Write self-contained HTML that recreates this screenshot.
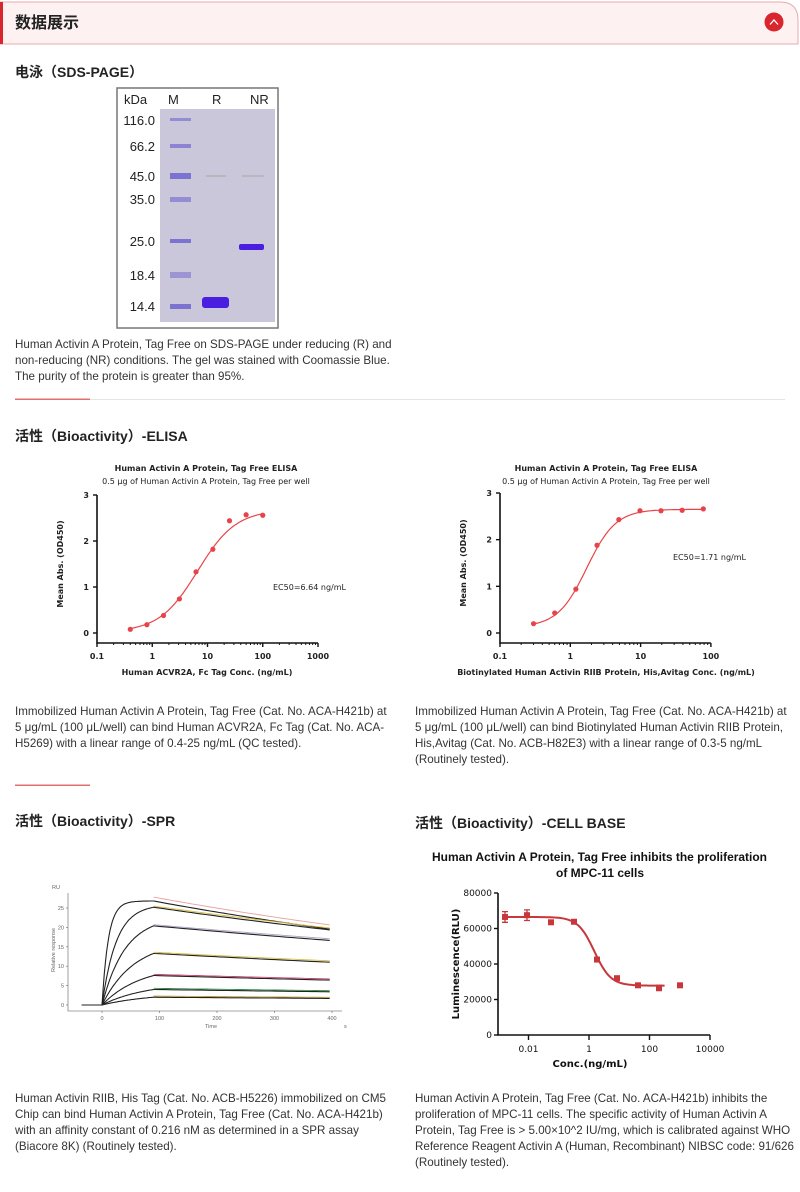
<!DOCTYPE html>
<html><head><meta charset="utf-8"><style>
body{margin:0;background:#fff;width:800px;height:1192px;overflow:hidden}
svg{display:block}
.t{font-family:"Liberation Sans","Noto Sans CJK SC",sans-serif}
.p{font-family:"Liberation Sans",sans-serif;font-size:11.6px;fill:#333}
.h{font-family:"Liberation Sans","Noto Sans CJK SC",sans-serif;font-size:14px;font-weight:bold;fill:#222}
.c{font-family:"DejaVu Sans",sans-serif;font-size:8px;fill:#222}
</style></head><body>
<svg id="s" width="800" height="1192" xmlns="http://www.w3.org/2000/svg">
<path d="M0 2 H780 Q798 2 798 20 V44 H0 Z" fill="#fdf1f1" stroke="#e9a9ad" stroke-width="1"/>
<rect x="0" y="2" width="3" height="42" fill="#d9262e"/>
<text x="15" y="28" class="t" font-size="16" font-weight="bold" fill="#222">数据展示</text>
<circle cx="774" cy="22" r="9.5" fill="#d9262e"/>
<path d="M770 24.5 L774 20 L778 24.5" fill="none" stroke="#fff" stroke-width="1.3"/>

<text x="15" y="77" class="h">电泳（SDS-PAGE）</text>
<rect x="117" y="88" width="161" height="240" fill="#fff" stroke="#777" stroke-width="1.5"/>
<rect x="160" y="109" width="115" height="213" fill="#c9c7d9"/>
<g class="t" font-size="13" fill="#222">
<text x="124" y="104">kDa</text><text x="168" y="104">M</text><text x="212" y="104">R</text><text x="250" y="104">NR</text>
<g text-anchor="end" font-size="13"><text x="155" y="125">116.0</text><text x="155" y="151">66.2</text><text x="155" y="181">45.0</text><text x="155" y="204">35.0</text><text x="155" y="246">25.0</text><text x="155" y="280">18.4</text><text x="155" y="311">14.4</text></g>
</g>
<g fill="#6a5fcf" opacity="0.8">
<rect x="170" y="118" width="21" height="3" opacity="0.7"/><rect x="170" y="144" width="21" height="4" opacity="0.8"/>
<rect x="170" y="173" width="21" height="6"/><rect x="170" y="197" width="21" height="5" opacity="0.7"/>
<rect x="170" y="239" width="21" height="4"/><rect x="170" y="272" width="21" height="6" opacity="0.6"/>
<rect x="170" y="304" width="21" height="5"/>
</g>
<rect x="202" y="297" width="27" height="11" rx="3" fill="#4a1ee0"/>
<rect x="239" y="244" width="25" height="6" rx="2" fill="#4a1ee0"/>
<rect x="206" y="175" width="20" height="2" fill="#aaa" opacity="0.6"/>
<rect x="242" y="175" width="22" height="2" fill="#aaa" opacity="0.5"/>

<text class="p"><tspan x="15" y="348">Human Activin A Protein, Tag Free on SDS-PAGE under reducing (R) and</tspan><tspan x="15" y="364">non-reducing (NR) conditions. The gel was stained with Coomassie Blue.</tspan><tspan x="15" y="380">The purity of the protein is greater than 95%.</tspan></text>
<rect x="15" y="399" width="770" height="1" fill="#e4e4e4"/><rect x="15" y="398.5" width="75" height="1.5" fill="#e07070"/>

<text x="15" y="441" class="h">活性（Bioactivity）-ELISA</text>

<g id="e1"></g><g id="e2"></g>

<text class="p"><tspan x="15" y="715">Immobilized Human Activin A Protein, Tag Free (Cat. No. ACA-H421b) at</tspan><tspan x="15" y="731">5 μg/mL (100 μL/well) can bind Human ACVR2A, Fc Tag (Cat. No. ACA-</tspan><tspan x="15" y="747">H5269) with a linear range of 0.4-25 ng/mL (QC tested).</tspan></text>
<text class="p"><tspan x="415" y="715">Immobilized Human Activin A Protein, Tag Free (Cat. No. ACA-H421b) at</tspan><tspan x="415" y="731">5 μg/mL (100 μL/well) can bind Biotinylated Human Activin RIIB Protein,</tspan><tspan x="415" y="747">His,Avitag (Cat. No. ACB-H82E3) with a linear range of 0.3-5 ng/mL</tspan><tspan x="415" y="763">(Routinely tested).</tspan></text>
<rect x="15" y="784.5" width="75" height="1.5" fill="#e07070"/>

<text x="15" y="826" class="h">活性（Bioactivity）-SPR</text>
<text x="415" y="828" class="h">活性（Bioactivity）-CELL BASE</text>

<g id="spr"></g><g id="cell"></g>

<text class="p"><tspan x="15" y="1102">Human Activin RIIB, His Tag (Cat. No. ACB-H5226) immobilized on CM5</tspan><tspan x="15" y="1118">Chip can bind Human Activin A Protein, Tag Free (Cat. No. ACA-H421b)</tspan><tspan x="15" y="1134">with an affinity constant of 0.216 nM as determined in a SPR assay</tspan><tspan x="15" y="1150">(Biacore 8K) (Routinely tested).</tspan></text>
<text class="p"><tspan x="415" y="1102">Human Activin A Protein, Tag Free (Cat. No. ACA-H421b) inhibits the</tspan><tspan x="415" y="1118">proliferation of MPC-11 cells. The specific activity of Human Activin A</tspan><tspan x="415" y="1134">Protein, Tag Free is &gt; 5.00×10^2 IU/mg, which is calibrated against WHO</tspan><tspan x="415" y="1150">Reference Reagent Activin A (Human, Recombinant) NIBSC code: 91/626</tspan><tspan x="415" y="1166">(Routinely tested).</tspan></text>
</svg>
<script>
var NS="http://www.w3.org/2000/svg";
function el(g,tag,a,txt){var e=document.createElementNS(NS,tag);for(var k in a)e.setAttribute(k,a[k]);if(txt!=null)e.textContent=txt;document.getElementById(g).appendChild(e);return e;}
function elisa(g,ax,dec,ndec,y0,y3,title,sub,xlab,xlabx,ec,ecx,ecy,pts,f,cx){
 var X=function(v){return ax+(Math.log10(v)+1)*dec};var Y=function(v){return y0-(y0-y3)*v/3};
 el(g,"text",{x:cx,y:471,"text-anchor":"middle","class":"c","font-weight":"bold"},title);
 el(g,"text",{x:cx,y:484,"text-anchor":"middle","class":"c"},sub);
 var xa=y0+10;
 el(g,"path",{d:"M"+ax+" "+y3+" V"+xa+" H"+(ax+ndec*dec),stroke:"#111","stroke-width":1.6,fill:"none"});
 for(var i=0;i<=3;i++){el(g,"path",{d:"M"+(ax-4)+" "+Y(i)+" H"+ax,stroke:"#111","stroke-width":1.4});el(g,"text",{x:ax-8,y:Y(i)+3,"text-anchor":"end","class":"c","font-weight":"bold"},String(i));}
 var labs=["0.1","1","10","100","1000"];
 for(var i=0;i<=ndec;i++){var x=ax+i*dec;el(g,"path",{d:"M"+x+" "+xa+" V"+(xa+4),stroke:"#111","stroke-width":1.4});el(g,"text",{x:x,y:xa+16,"text-anchor":"middle","class":"c","font-weight":"bold"},labs[i]);
  if(i<ndec)for(var j=2;j<10;j++){var xx=x+Math.log10(j)*dec;el(g,"path",{d:"M"+xx+" "+xa+" V"+(xa+2),stroke:"#111","stroke-width":1});}}
 el(g,"text",{x:xlabx,y:xa+32,"text-anchor":"middle","class":"c","font-weight":"bold"},xlab);
 el(g,"text",{transform:"translate("+(ax-34)+","+((y0+y3)/2)+") rotate(-90)","text-anchor":"middle","class":"c","font-weight":"bold"},"Mean Abs. (OD450)");
 el(g,"text",{x:ecx,y:ecy,"class":"c"},ec);
 var d="",a=pts[0][0],b=pts[pts.length-1][0];
 for(var i=0;i<=80;i++){var v=a*Math.pow(b/a,i/80);d+=(i?"L":"M")+X(v).toFixed(1)+" "+Y(f(v)).toFixed(1);}
 el(g,"path",{d:d,stroke:"#e8434b","stroke-width":1.2,fill:"none"});
 pts.forEach(function(p){el(g,"circle",{cx:X(p[0]),cy:Y(p[1]),r:2.6,fill:"#e8434b"});});
}
try{
elisa("e1",97,55.25,4,633,495,"Human Activin A Protein, Tag Free ELISA","0.5 μg of Human Activin A Protein, Tag Free per well","Human ACVR2A, Fc Tag Conc. (ng/mL)",207,"EC50=6.64 ng/mL",273,590,
 [[0.4,0.08],[0.8,0.18],[1.6,0.38],[3.1,0.74],[6.2,1.33],[12.5,1.82],[25,2.44],[50,2.57],[100,2.56]],
 function(v){return 0.02+2.66/(1+Math.pow(6.64/v,1.25));},206);
}catch(e){}
try{
elisa("e2",500,70.3,3,633,493,"Human Activin A Protein, Tag Free ELISA","0.5 μg of Human Activin A Protein, Tag Free per well","Biotinylated Human Activin RIIB Protein, His,Avitag Conc. (ng/mL)",606,"EC50=1.71 ng/mL",673,560,
 [[0.3,0.2],[0.6,0.43],[1.2,0.94],[2.4,1.88],[4.9,2.43],[9.8,2.62],[19.5,2.62],[39,2.63],[78,2.66]],
 function(v){return 0.13+2.52/(1+Math.pow(1.71/v,2.1));},606);
}catch(e){}
try{(function(){var g="spr";var X=function(t){return 102+t*0.575},Y=function(r){return 1005-r*3.88};
 el(g,"path",{d:"M68 893 V1011 H342",stroke:"#888","stroke-width":0.8,fill:"none"});
 [0,5,10,15,20,25].forEach(function(r){el(g,"path",{d:"M66 "+Y(r)+" H68",stroke:"#888","stroke-width":0.8});el(g,"text",{x:64,y:Y(r)+2,"text-anchor":"end","font-family":"Liberation Sans","font-size":5.5,fill:"#666"},String(r));});
 [0,100,200,300,400].forEach(function(t){el(g,"path",{d:"M"+X(t)+" 1011 V1013",stroke:"#888","stroke-width":0.8});el(g,"text",{x:X(t),y:1020,"text-anchor":"middle","font-family":"Liberation Sans","font-size":5.5,fill:"#666"},String(t));});
 el(g,"text",{x:52,y:889,"font-family":"Liberation Sans","font-size":5.5,fill:"#666"},"RU");
 el(g,"text",{x:205,y:1028,"font-family":"Liberation Sans","font-size":5.5,fill:"#666"},"Time");
 el(g,"text",{x:344,y:1028,"font-family":"Liberation Sans","font-size":5.5,fill:"#666"},"s");
 el(g,"text",{transform:"translate(55,950) rotate(-90)","text-anchor":"middle","font-family":"Liberation Sans","font-size":5.5,fill:"#666"},"Relative response");
 var S=[[26.8,0.09,19.5,"#e8a0a0"],[25.2,0.04,19.3,"#d8c040"],[20.4,0.025,16.6,"#b0a0c8"],[13.3,0.018,11,"#d8c040"],[7.6,0.015,6.4,"#d04070"],[4.0,0.013,3.4,"#309040"],[2.0,0.012,1.7,"#c0a030"]];
 S.forEach(function(s,i){var R=s[0]/(1-Math.exp(-s[1]*90)),kd=Math.log(s[0]/s[2])/310;
  var d="M"+X(-35)+" "+Y(0)+" L"+X(0)+" "+Y(0);
  for(var t=0;t<=90;t+=2){d+="L"+X(t).toFixed(1)+" "+Y(R*(1-Math.exp(-s[1]*t))).toFixed(1);}
  for(var t=92;t<=400;t+=8){d+="L"+X(t).toFixed(1)+" "+Y(s[0]*Math.exp(-kd*(t-90))).toFixed(1);}
  var off=(i==0?1:0.3);var dd="M"+X(90)+" "+Y(s[0]+off);for(var t=92;t<=400;t+=8){dd+="L"+X(t).toFixed(1)+" "+Y((s[0]+off)*Math.exp(-kd*0.95*(t-90))).toFixed(1);}
  el(g,"path",{d:dd,stroke:s[3],"stroke-width":0.9,fill:"none"});
  el(g,"path",{d:d,stroke:"#222","stroke-width":1.1,fill:"none"});});
})();}catch(e){}
try{(function(){var g="cell";var X=function(v){return 589+Math.log10(v)*30.25},Y=function(r){return 1035-r*142/80000};
 el(g,"text",{x:432,y:861,textLength:335,lengthAdjust:"spacingAndGlyphs","font-family":"Liberation Sans","font-size":12,"font-weight":"bold",fill:"#111"},"Human Activin A Protein, Tag Free inhibits the proliferation");
 el(g,"text",{x:600,y:877,"text-anchor":"middle","font-family":"Liberation Sans","font-size":12,"font-weight":"bold",fill:"#111"},"of MPC-11 cells");
 el(g,"path",{d:"M498 893 V1035 H710",stroke:"#111","stroke-width":1.6,fill:"none"});
 [0,20000,40000,60000,80000].forEach(function(r){el(g,"path",{d:"M494 "+Y(r)+" H498",stroke:"#111","stroke-width":1.4});el(g,"text",{x:492,y:Y(r)+3,"text-anchor":"end","font-family":"DejaVu Sans","font-size":9,fill:"#111"},String(r));});
 [[0.01,"0.01"],[1,"1"],[100,"100"],[10000,"10000"]].forEach(function(p){var x=X(p[0]);el(g,"path",{d:"M"+x+" 1035 V1040",stroke:"#111","stroke-width":1.4});el(g,"text",{x:x,y:1052,"text-anchor":"middle","font-family":"DejaVu Sans","font-size":9,fill:"#111"},p[1]);});
 el(g,"text",{x:590,y:1067,"text-anchor":"middle","font-family":"DejaVu Sans","font-size":10,"font-weight":"bold",fill:"#111"},"Conc.(ng/mL)");
 el(g,"text",{transform:"translate(459,964) rotate(-90)","text-anchor":"middle","font-family":"DejaVu Sans","font-size":10,"font-weight":"bold",fill:"#111"},"Luminescence(RLU)");
 var f=function(v){return 27800+38700/(1+Math.pow(v/1.5,1.6));};
 var d="";for(var i=0;i<=80;i++){var lv=-2.8+i*5.3/80,v=Math.pow(10,lv);d+=(i?"L":"M")+X(v).toFixed(1)+" "+Y(f(v)).toFixed(1);}
 el(g,"path",{d:d,stroke:"#c8373c","stroke-width":2,fill:"none"});
 var P=[[505,66500,3000],[527,67500,3000],[551,63500,0],[574,63800,800],[597,42500,0],[617,32000,0],[638,28000,0],[659,26500,1500],[680,28000,0]];
 P.forEach(function(p){var y=Y(p[1]);if(p[2]){var e=p[2]*142/80000;el(g,"path",{d:"M"+(p[0]-3)+" "+(y-e)+"H"+(p[0]+3)+"M"+p[0]+" "+(y-e)+"V"+(y+e)+"M"+(p[0]-3)+" "+(y+e)+"H"+(p[0]+3),stroke:"#c8373c","stroke-width":1.3});}
  el(g,"rect",{x:p[0]-3,y:y-3,width:6,height:6,fill:"#c8373c"});});
})();}catch(e){}
</script>
</body></html>
